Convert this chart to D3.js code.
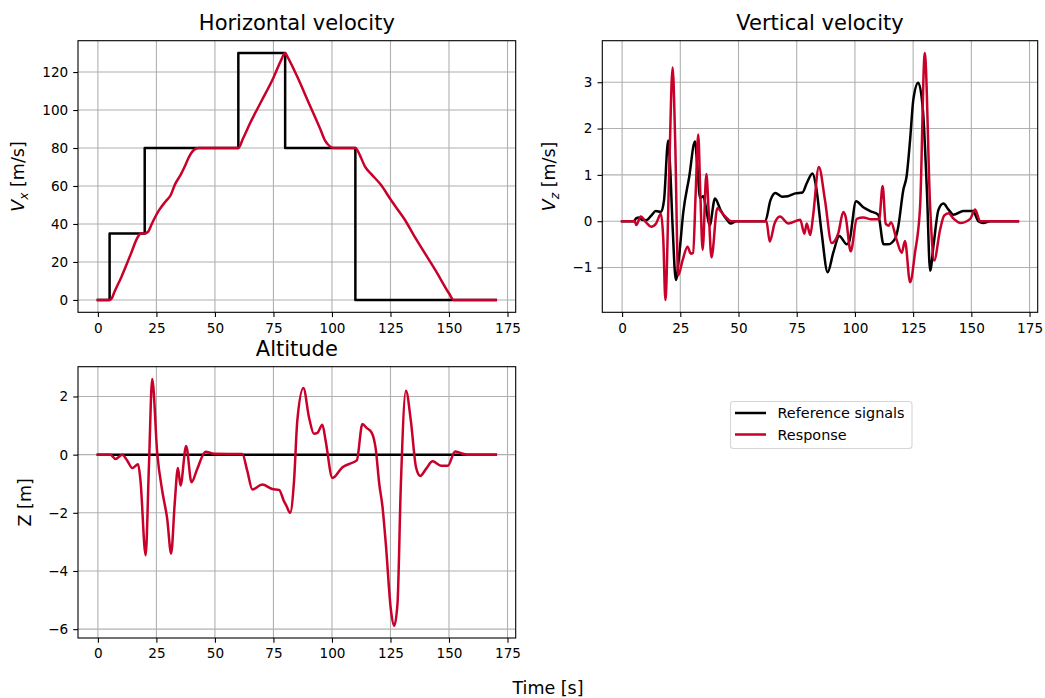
<!DOCTYPE html>
<html><head><meta charset="utf-8">
<script src="https://cdn.jsdelivr.net/npm/d3@7"></script>
<style>body{margin:0;background:#fff}svg{display:block}text{font-family:"DejaVu Sans",sans-serif;fill:#000}</style>
</head><body><svg id="c" width="1045" height="698"></svg>
<script>
// ---------- data ----------
const timeTicks = [0,25,50,75,100,125,150,175];
const vxTicks = [0,20,40,60,80,100,120];
const vzTicks = [-1,0,1,2,3];
const zTicks = [-6,-4,-2,0,2];
const seriesNames = ["Reference signals","Response"];

// Horizontal velocity: reference (step) and response
const vxRef = [[0,0],[5,35],[20,80],[60,130],[80,80],[110,0],[170,0]];
const vxResp = [[0,0],[5,0],[6,1],[7,4],[10,12],[14,24],[17,33],[18.3,35],[20,35],[21.5,36],[23,40],[26,47],[29,52],[31,55],[33,61],[35.4,66],[37,70],[39,75.5],[41,79],[43,80],[60,80],[62,85],[65,93],[70,105],[75,117],[78,125.5],[80,130],[81,128],[85,118],[90,104],[95,90],[97,84],[99,81],[101,80],[110,80],[112,76],[114,70.5],[117,66],[121,60.5],[125,53],[129,46],[131,42.5],[135,34],[140,24],[145,14],[150,3.5],[152,0],[170,0]];

// Vertical velocity
const vzRef = [[0,0],[5,0],[6,0.06],[7.4,0.08],[8.5,0.03],[10.3,0.02],[12.5,0.12],[14.5,0.22],[16.7,0.2],[18,0.45],[19.8,1.74],[20.6,1.2],[21.7,-0.12],[23.1,-1.27],[24.5,-0.75],[26.3,0.2],[28.8,0.95],[31.3,1.72],[32.3,1.2],[33.5,0.5],[34.9,0.54],[36,0.3],[37.6,-0.09],[39.9,0.49],[42.3,0.24],[45.2,0.02],[46.6,-0.05],[49,0],[61.5,0],[63.7,0.45],[65.8,0.61],[68.7,0.53],[71.2,0.54],[74.4,0.6],[77.5,0.62],[79.3,0.82],[81.8,1.03],[83.3,0.75],[85.7,-0.25],[88.3,-1.1],[90.7,-0.68],[93.3,-0.32],[96.5,-0.5],[97.5,-0.45],[100.5,0.43],[103.6,0.3],[106.5,0.22],[110,0.14],[112.3,-0.5],[114.2,-0.5],[117.2,-0.38],[118.5,-0.15],[120.8,0.68],[122.2,0.97],[123.7,1.76],[125.1,2.63],[127.2,2.99],[129.2,2.4],[130.9,0.68],[132.3,-1.07],[133.8,-0.5],[135.9,0.25],[138,0.38],[140.2,0.25],[142.3,0.14],[146.6,0.22],[150.7,0.22],[153,0],[155.2,-0.04],[158,0],[170,0]];
const vzResp = [[0,0],[5.4,0],[6.1,-0.08],[8,0.1],[10.4,-0.03],[12.5,-0.12],[14.6,-0.05],[16.7,0.16],[17.7,-0.4],[18.6,-1.7],[20.2,1.02],[21.7,3.32],[22.8,1.74],[24.1,-1.17],[26,-0.84],[28.1,-0.55],[29.5,-0.7],[30.5,-0.68],[31.6,0.6],[32.7,1.87],[33.6,0.6],[34.6,-0.62],[36.2,1.02],[37.2,0.2],[38.4,-0.78],[40.9,0.28],[43.7,0.13],[47,0],[62,0],[63.4,-0.44],[65.5,-0.05],[67.8,0.1],[71.4,-0.05],[76.5,0.03],[78.3,-0.27],[79.3,-0.05],[80.8,-0.3],[82,0.1],[84.5,1.17],[87.1,0.47],[90,-0.47],[92.9,-0.25],[95,0.2],[96,0.1],[98.2,-0.65],[100.8,0.05],[103.6,0.08],[107,0.04],[110.4,0.04],[111.9,0.76],[113.2,-0.05],[114.4,-0.1],[115.5,-0.02],[117.9,-0.4],[120.1,-0.68],[121.5,-0.43],[123.7,-1.32],[125.8,-0.68],[128,0.32],[130,3.63],[132.3,0.32],[134,-0.85],[136.6,-0.18],[138.3,0.12],[140.2,0.17],[142.5,0.05],[145.2,-0.04],[149.5,0.05],[151.6,0.25],[153.8,0],[156,0],[170,0]];

// Altitude
const zRef = [[0,0],[170,0]];
const zResp = [[0,0],[5.4,0],[7.5,-0.15],[10.4,0],[12.5,-0.2],[14.7,-0.46],[17.2,-0.33],[18.2,-0.9],[20.4,-3.46],[21.8,-0.4],[23.2,2.6],[25.4,0],[27.5,-1.25],[29.6,-2.2],[31.3,-3.4],[32.8,-1.7],[34.2,-0.46],[35.3,-1.06],[37.7,0.3],[40,-0.95],[42.4,-0.5],[46,0.1],[49.6,0.03],[61.7,0.02],[63.8,-0.55],[66,-1.2],[70.2,-1.03],[74.5,-1.18],[77.4,-1.21],[79.5,-1.6],[80.5,-1.75],[82.1,-2.0],[83.8,-0.9],[85.2,1.17],[87.8,2.29],[90.2,1.28],[92.3,0.72],[93.8,0.75],[95.9,1.03],[97.3,0.48],[100.2,-0.8],[104.5,-0.43],[108,-0.3],[110.6,-0.2],[113,1.05],[114.9,0.91],[116.9,0.77],[118.7,0.2],[120.2,-1.0],[121.6,-1.8],[123,-3.06],[125.2,-5.35],[126.6,-5.88],[128,-5.12],[129.4,-1.12],[131.6,2.2],[133.7,1.17],[135.9,-0.43],[137.7,-0.73],[140.2,-0.49],[143,-0.23],[146.6,-0.38],[149.5,-0.38],[152.6,0.11],[155.2,0.05],[158,0],[170,0]];

// ---------- drawing ----------
const RED = "#c8002a", BLACK = "#000";
const svg = d3.select("#c");
const F_TICK = 13.6, F_TITLE = 21, F_LABEL = 17.5, F_LEG = 14.4, LW = 2.5;

function pad(ext){const r=ext[1]-ext[0];return [ext[0]-0.05*r, ext[1]+0.05*r];}

function panel(o){
  const g = svg.append("g");
  const allT = o.series.flatMap(s=>s.data.map(d=>d[0]));
  const allV = o.series.flatMap(s=>s.data.map(d=>d[1]));
  const x = d3.scaleLinear().domain(pad(d3.extent(allT))).range([o.x0,o.x1]);
  const y = d3.scaleLinear().domain(pad(d3.extent(allV))).range([o.y1,o.y0]);
  // grid
  g.append("g").selectAll("line").data(o.xt).join("line")
    .attr("x1",d=>x(d)).attr("x2",d=>x(d)).attr("y1",o.y0).attr("y2",o.y1)
    .attr("stroke","#b0b0b0").attr("stroke-width",1.1);
  g.append("g").selectAll("line").data(o.yt).join("line")
    .attr("y1",d=>y(d)).attr("y2",d=>y(d)).attr("x1",o.x0).attr("x2",o.x1)
    .attr("stroke","#b0b0b0").attr("stroke-width",1.1);
  // lines
  const clipId = "clip"+Math.round(o.x0)+"_"+Math.round(o.y0);
  svg.append("clipPath").attr("id",clipId).append("rect")
    .attr("x",o.x0).attr("y",o.y0).attr("width",o.x1-o.x0).attr("height",o.y1-o.y0);
  o.series.forEach(s=>{
    const line = d3.line().x(d=>x(d[0])).y(d=>y(d[1])).curve(s.curve||d3.curveMonotoneX);
    g.append("path").attr("d",line(s.data)).attr("fill","none")
      .attr("stroke",s.color).attr("stroke-width",LW)
      .attr("stroke-linejoin","round").attr("stroke-linecap","square")
      .attr("clip-path","url(#"+clipId+")");
  });
  // axes
  const ax = g.append("g").attr("transform",`translate(0,${o.y1})`)
    .call(d3.axisBottom(x).tickValues(o.xt).tickSize(4.8).tickPadding(6).tickFormat(d3.format("d")));
  const ay = g.append("g").attr("transform",`translate(${o.x0},0)`)
    .call(d3.axisLeft(y).tickValues(o.yt).tickSize(4.8).tickPadding(5).tickFormat(d3.format("d")));
  [ax,ay].forEach(a=>{
    a.select(".domain").remove();
    a.selectAll(".tick line").attr("stroke","#000").attr("stroke-width",1.1);
    a.selectAll(".tick text").attr("font-size",F_TICK).attr("font-family","DejaVu Sans").attr("fill","#222");
  });
  g.append("rect").attr("x",o.x0).attr("y",o.y0).attr("width",o.x1-o.x0).attr("height",o.y1-o.y0)
    .attr("fill","none").attr("stroke","#000").attr("stroke-width",1.1);
  // title
  g.append("text").attr("x",(o.x0+o.x1)/2).attr("y",o.titleY).attr("text-anchor","middle")
    .attr("font-size",F_TITLE).text(o.title);
  // y label
  const yl = g.append("text").attr("transform",`translate(${o.labelX},${(o.y0+o.y1)/2}) rotate(-90)`)
    .attr("text-anchor","middle").attr("font-size",F_LABEL);
  if(o.sub){
    yl.append("tspan").attr("font-style","italic").text("V");
    yl.append("tspan").attr("font-style","italic").attr("font-size",F_LABEL*0.7).attr("dy",4).text(o.sub);
    yl.append("tspan").attr("dy",-4).text(" [m/s]");
  } else yl.text(o.label);
}

panel({x0:78,x1:515.7,y0:40.7,y1:312.3,xt:timeTicks,yt:vxTicks,title:"Horizontal velocity",titleY:30,labelX:24,sub:"x",
  series:[{data:vxRef,color:BLACK,curve:d3.curveStepAfter},{data:vxResp,color:RED}]});
panel({x0:602.3,x1:1037.7,y0:40.7,y1:312.3,xt:timeTicks,yt:vzTicks,title:"Vertical velocity",titleY:30,labelX:555,sub:"z",
  series:[{data:vzRef,color:BLACK},{data:vzResp,color:RED}]});
panel({x0:78,x1:515.7,y0:366.7,y1:638,xt:timeTicks,yt:zTicks,title:"Altitude",titleY:356,labelX:31,label:"Z [m]",
  series:[{data:zRef,color:BLACK,curve:d3.curveLinear},{data:zResp,color:RED}]});

// supxlabel
svg.append("text").attr("x",548).attr("y",694).attr("text-anchor","middle").attr("font-size",F_LABEL).text("Time [s]");

// legend
const lg = svg.append("g");
lg.append("rect").attr("x",730.5).attr("y",401.5).attr("width",181.5).attr("height",47).attr("rx",3)
  .attr("fill","#fff").attr("stroke","#d6d6d6").attr("stroke-width",1.1);
const colors=[BLACK,RED];
seriesNames.forEach((n,i)=>{
  const yy = 413 + i*21.5;
  lg.append("line").attr("x1",735).attr("x2",766).attr("y1",yy).attr("y2",yy).attr("stroke",colors[i]).attr("stroke-width",LW);
  lg.append("text").attr("x",777.5).attr("y",yy+5).attr("font-size",F_LEG).text(n);
});
</script></body></html>
